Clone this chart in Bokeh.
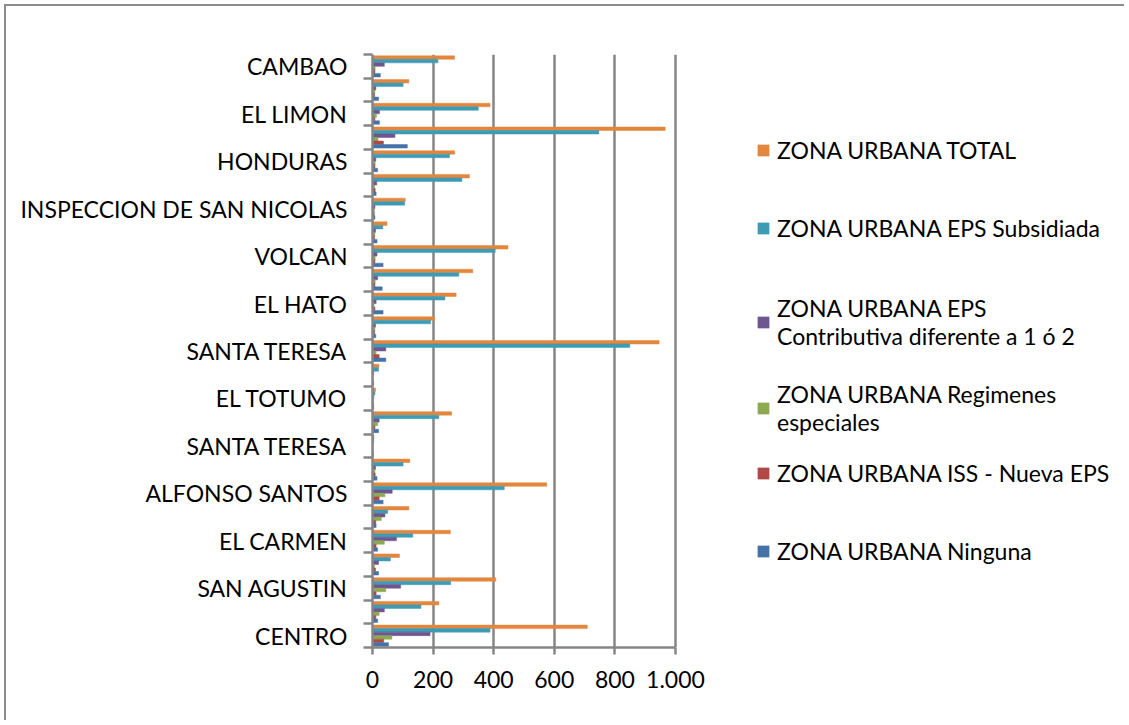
import numpy as np
from bokeh.plotting import figure
from bokeh.models import ColumnDataSource, Range1d, FixedTicker, Legend, LegendItem
from bokeh.transform import dodge
from bokeh.embed import file_html
from bokeh.resources import INLINE

# categories from bottom (index 0) to top (index 24); unlabeled ones left blank
labels = ["CENTRO", "", "SAN AGUSTIN", "", "EL CARMEN", "", "ALFONSO SANTOS", "",
          "SANTA TERESA", "", "EL TOTUMO", "", "SANTA TERESA", "", "EL HATO", "",
          "VOLCAN", "", "INSPECCION DE SAN NICOLAS", "", "HONDURAS", "",
          "EL LIMON", "", "CAMBAO"]

total        = [709, 219, 407, 89, 257, 120, 575, 123, 5, 261, 10, 21, 946, 204, 276, 331, 447, 48, 108, 320, 271, 966, 388, 120, 271]
subsidiada   = [388, 160, 258, 59, 133, 50, 435, 101, 4, 219, 8, 20, 849, 192, 239, 285, 405, 34, 106, 295, 254, 747, 349, 101, 216]
contributiva = [190, 39, 93, 20, 79, 41, 65, 10, 2, 22, 4, 4, 44, 10, 12, 17, 15, 10, 8, 14, 11, 74, 23, 11, 39]
regimenes    = [64, 22, 44, 7, 39, 29, 41, 8, 2, 17, 3, 2, 12, 8, 5, 9, 9, 8, 6, 7, 9, 18, 13, 8, 9]
iss          = [37, 11, 12, 10, 12, 11, 22, 9, 2, 8, 3, 2, 22, 7, 8, 8, 8, 7, 6, 9, 8, 36, 8, 7, 8]
ninguna      = [53, 17, 26, 20, 17, 12, 35, 15, 3, 20, 4, 4, 44, 11, 35, 32, 35, 15, 8, 12, 17, 115, 23, 20, 26]

series_names = ["ZONA URBANA TOTAL", "ZONA URBANA EPS Subsidiada",
                "ZONA URBANA EPS\nContributiva diferente a 1 ó 2",
                "ZONA URBANA Regimenes\nespeciales",
                "ZONA URBANA ISS - Nueva EPS", "ZONA URBANA Ninguna"]
series_cols = ["total", "subsidiada", "contributiva", "regimenes", "iss", "ninguna"]
series_colors = ["#E3873E", "#3E9BB5", "#6E5690", "#8DAA4E", "#B04845", "#4573A8"]

x_ticks = [0, 200, 400, 600, 800, 1000]
x_tick_labels = ["0", "200", "400", "600", "800", "1.000"]
x_max = 1000

FONT = "Lato"
FSIZE = "23px"
GRAY = "#868686"

# layout (pixels)
W, H = 1120, 716
LEFT, TOP, BOTTOM, RIGHT = 366, 48, 75, 5
BAR_AREA_W = 303          # pixel width of the 0..1000 value span
frame_w = W - LEFT - RIGHT
frame_h = H - TOP - BOTTOM
x_end = x_max * frame_w / BAR_AREA_W   # frame extends right to host the legend
CANVAS_OFF = 6                          # 4px margin + 2px border
frame_bottom_abs = CANVAS_OFF + TOP + frame_h
legend_x = 384                          # legend glyph offset from frame left
legend_centers = [150, 228, 321.5, 407.5, 473, 551]   # page y of each legend entry's centre

src = ColumnDataSource(dict(y=list(range(len(labels))), total=total, subsidiada=subsidiada,
                            contributiva=contributiva, regimenes=regimenes, iss=iss, ninguna=ninguna))

p = figure(width=W, height=H, x_range=Range1d(0, x_end), y_range=Range1d(-0.5, len(labels) - 0.5),
           output_backend="svg", toolbar_location=None,
           min_border_left=LEFT, min_border_top=TOP, min_border_bottom=BOTTOM, min_border_right=RIGHT)
p.styles = {"margin-left": "4px", "margin-top": "4px",
            "border-left": "2px solid #8c8c8c", "border-top": "2px solid #8c8c8c"}
p.outline_line_color = None
p.background_fill_color = "white"
p.border_fill_color = "white"

bh = 0.148
renderers = []
for k, (col, color) in enumerate(zip(series_cols, series_colors)):
    off = (2.5 - k) * bh
    r = p.hbar(y=dodge("y", off), right=col, left=0, height=bh, source=src,
               fill_color=color, line_color=color, line_width=0.5)
    renderers.append(r)

# x axis
p.xaxis.bounds = (0, x_max)
p.xaxis.ticker = FixedTicker(ticks=x_ticks)
p.xaxis.major_label_overrides = {t: l for t, l in zip(x_ticks, x_tick_labels)}
p.xaxis.axis_line_color = GRAY
p.xaxis.axis_line_width = 2.5
p.xaxis.major_tick_line_color = GRAY
p.xaxis.major_tick_line_width = 2.5
p.xaxis.major_tick_out = 7
p.xaxis.major_tick_in = 0
p.xaxis.minor_tick_line_color = None
p.xaxis.major_label_text_font = FONT
p.xaxis.major_label_text_font_size = FSIZE
p.xaxis.major_label_text_color = "black"
p.xaxis.major_label_standoff = 16

# y axis
ylab_ticks = [i for i, l in enumerate(labels) if l]
p.yaxis.ticker = FixedTicker(ticks=ylab_ticks, minor_ticks=[i - 0.5 for i in range(len(labels) + 1)])
p.yaxis.major_label_overrides = {i: labels[i] for i in ylab_ticks}
p.yaxis.axis_line_color = GRAY
p.yaxis.axis_line_width = 2.5
p.yaxis.major_tick_line_color = None
p.yaxis.major_tick_out = 0
p.yaxis.major_tick_in = 0
p.yaxis.minor_tick_line_color = GRAY
p.yaxis.minor_tick_line_width = 2.5
p.yaxis.minor_tick_out = 9
p.yaxis.minor_tick_in = 0
p.yaxis.major_label_text_font = FONT
p.yaxis.major_label_text_font_size = FSIZE
p.yaxis.major_label_text_color = "black"
p.yaxis.major_label_standoff = 16

# grid
p.xgrid.ticker = FixedTicker(ticks=x_ticks[1:])
p.xgrid.grid_line_color = GRAY
p.xgrid.grid_line_width = 2.5
p.ygrid.grid_line_color = None

# one legend block per entry so each can sit where the reference puts it
for name, r, c in zip(series_names, renderers, legend_centers):
    item_h = 56 if "\n" in name else 28
    leg = Legend(items=[LegendItem(label=name, renderers=[r])],
                 location=(legend_x, frame_bottom_abs - c - item_h / 2), orientation="vertical",
                 label_text_font=FONT, label_text_font_size=FSIZE, label_text_color="black",
                 glyph_width=14, glyph_height=14, label_standoff=7, label_height=item_h,
                 spacing=0, padding=0, margin=0,
                 border_line_color=None, background_fill_alpha=0)
    p.add_layout(leg, "center")

open("out.html", "w").write(file_html(p, INLINE))
